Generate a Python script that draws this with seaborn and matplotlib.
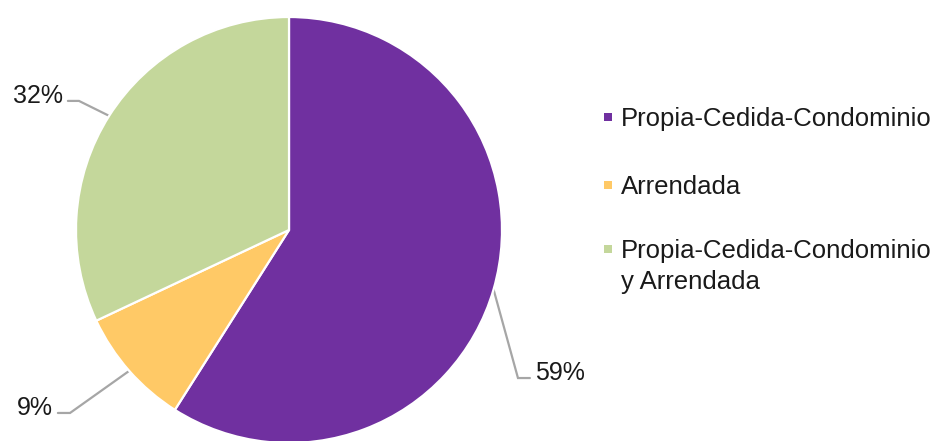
import numpy as np
import matplotlib
matplotlib.use("Agg")
import matplotlib.pyplot as plt
from matplotlib.patches import Rectangle
import seaborn as sns

# Housing tenure shares
categories = ["Propia-Cedida-Condominio", "Arrendada",
              "Propia-Cedida-Condominio\ny Arrendada"]
shares = [59, 9, 32]
pct_labels = ["59%", "9%", "32%"]

sns.set_theme(style="white")
plt.rcParams["font.family"] = ["Liberation Sans", "DejaVu Sans"]

colors = sns.color_palette(["#7030A0", "#FFC966", "#C4D79B"])

W, H = 936, 441
fig = plt.figure(figsize=(W / 100, H / 100), dpi=100)
ax = fig.add_axes([0, 0, 1, 1])

wedges, _ = ax.pie(shares, colors=colors, startangle=90, counterclock=False,
                   radius=1.0,
                   wedgeprops=dict(edgecolor="white", linewidth=1.6))

# pixel layout of the pie: centre and radius
cx, cy, r = 289, 230, 213
ax.set_xlim(-cx / r, (W - cx) / r)
ax.set_ylim(-(H - cy) / r, cy / r)
ax.set_aspect("equal")
ax.axis("off")

# elbow point, end of horizontal tick, side of the label (data units)
leaders = [
    ((1.075, -0.695), 0.056, 1),
    ((-1.028, -0.859), -0.057, -1),
    ((-0.986, 0.606), -0.052, -1),
]
line_col = "#A6A6A6"
for w, lab, (elbow, dx, side) in zip(wedges, pct_labels, leaders):
    mid = np.deg2rad((w.theta1 + w.theta2) / 2)
    sx, sy = np.cos(mid), np.sin(mid)
    ex, ey = elbow
    ax.plot([sx, ex, ex + dx], [sy, ey, ey], color=line_col, lw=1.6,
            solid_joinstyle="miter", zorder=0)
    tx = ex + dx + side * 0.025
    ax.text(tx, ey + 0.025, lab, fontsize=18, color="#1a1a1a",
            ha="left" if side > 0 else "right", va="center")

# legend on the right
def fx(px):
    return px / W

def fy(py):
    return 1 - py / H

row_centres = [118, 186, 250]
for col, name, yc in zip(colors, categories, row_centres):
    s = 8
    fig.patches.append(Rectangle((fx(604), fy(yc + 3)), s / W, s / H,
                                 transform=fig.transFigure, color=col,
                                 lw=0))
    fig.text(fx(621), fy(yc - 11), name, fontsize=18.5, color="#1a1a1a",
             ha="left", va="top", linespacing=1.38)

fig.savefig("out.png", dpi=100, facecolor="white")
